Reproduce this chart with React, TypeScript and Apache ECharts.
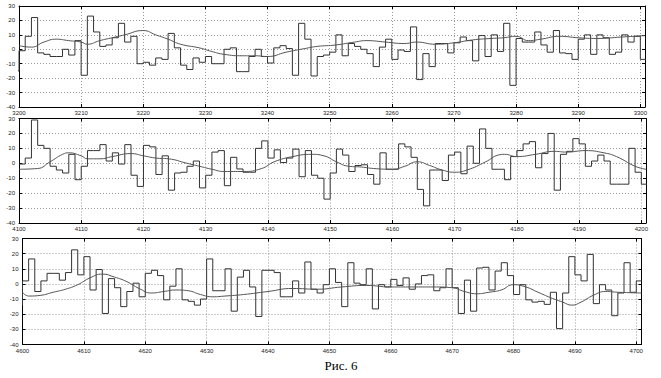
import React, { useEffect, useRef } from "react";
import * as echarts from "echarts";

// x range start of each panel
const PANEL_STARTS = [3200, 4100, 4600];
// value of the step just before each panel's first tick (only its edge is visible)
const PRE_VALUES: (number | null)[] = [-15, null, -14];

// step values, one per unit from the panel start
const STEP_1 = [
  -1, 9, 22, -2.5, -3.5, -5, -5, 0, -4, 6,
  -18, 23, 12, 2, 3, 8, 18, 5, 9, -10,
  -9, -11, -6, -7, 11, 1, -11, -14, -6, -9,
  -5, -10, -10, 0, 1, -15.5, -15.5, -5, 0, -5,
  -9.5, 1, 2.5, 0.5, -18, 18, 7, -18.5, -5, -4,
  -2, 10, -4.5, 4, 2, 0, -3, -12, 1.5, 7,
  -7, -0.5, -1.5, 15.5, -21, -3, -12, 4, 4, -2.5,
  4.5, 8.5, 6, -8, 9.5, -5, 10, -1.5, 18, -25,
  7.5, 5, 5, 12, 3, -2, 13, -2.5, -3, -7,
  7, 10, -3.5, 10, 8, -3.5, -2, 10, 5, 9,
  -7, -7,
];
const STEP_2 = [
  -0.5, 3.5, 29, 12, 10, -2, -4.5, -6.5, 6, -11,
  -2, 8.5, 8.5, 12.5, 1.5, 7, -0.5, 12.5, -8, -15.5,
  12, 11, -7.5, 5, -18, -6.5, -6, -2, 1.5, -16.5,
  -8, 7.5, 8.5, -15, 4, -3.8, -6, -6, 10, 15,
  3.5, 9, 0.5, 3.5, 9.5, -9, 8.5, -8, -10, -24,
  -6.5, 9.5, 5.5, -5.5, -1.5, -1, -7.5, -14, 7, -4,
  -4, 13, 11, 4, -17.5, -28.5, -4.5, -4.5, -11.5, 5.5,
  7.5, -7, 11.5, 0, 23, 10, -4, -4, -11, 4.5,
  8.5, 13, 14.5, -3, 6.5, 20, -18, 6, 8, 16.5,
  13, -2, 1.5, 5.5, 1.5, -14, -14, -14, 10, -6,
  -14, -14,
];
const STEP_3 = [
  2, 16.5, -5, 2, 7, 7, 2.5, 7.5, 22.5, 6,
  18, -4, 9.5, -19.5, 3.5, -2.5, -15, -5, 0.5, -8.5,
  7, 9, 5.5, -10.5, -1.5, 10, -10.5, -11.5, -14, -10,
  16.5, -4.5, -4.5, 10, -18, 4.5, 9, -2, -21.5, 9,
  9, 7.5, -8.5, -8.5, 2, -6, 14.5, -3.5, -6, -0.5,
  10, 1, -15, 14, 0.5, -0.5, 10, -16.5, -0.5, -2,
  3, -1, 4, -3.5, 0, 5.5, 6, -4.5, -2.5, 10,
  -2.5, -19.5, 2.5, -18, 10.5, 11, -4, 8.5, 14, 5.5,
  -7, -0.5, -10.5, -12, -11.5, -13.5, -5.5, -29.5, -6, 18,
  6, 2, 19.5, -13, -0.5, -4, -21, -6, 14, -5.5,
  2, 2,
];
const STEPS = [STEP_1, STEP_2, STEP_3];

// smooth trend curves (read at sample points)
const CURVE_X_1 = [3200, 3202, 3204, 3206, 3208, 3210, 3211, 3213, 3215, 3217, 3220, 3222, 3224, 3226, 3229, 3231, 3233, 3236, 3238, 3240, 3243, 3246, 3248, 3251, 3254, 3256, 3259, 3262, 3264, 3267, 3270, 3273, 3276, 3278, 3280, 3282, 3284, 3287, 3290, 3293, 3297, 3300.75];
const CURVE_Y_1 = [2.5, 1.5, 5, 7, 6, 5, 3.5, 6, 8, 10, 13, 10, 7, 3.5, 1, -1.5, -3.5, -4.5, -4.5, -5, -2, 0.5, 2, 3, 5, 6, 5, 4, 5, 3.5, 4.5, 6.5, 7.5, 8, 9, 6, 7, 9, 8, 7.5, 8.5, 9.5];
const CURVE_X_2 = [4100, 4103, 4105, 4107, 4108, 4110, 4111, 4113, 4115, 4118, 4120, 4122, 4124, 4127, 4129, 4131, 4133, 4136, 4139, 4141, 4144, 4147, 4149, 4151, 4153, 4155, 4157, 4160, 4162, 4164, 4166, 4168, 4170, 4172, 4175, 4177, 4178, 4180, 4183, 4186, 4188, 4191, 4194, 4196, 4199, 4200.75];
const CURVE_Y_2 = [-4, -3.5, 1, 6, 7, 5, 3, 3, 4.5, 6.5, 5, 3.5, 3, 0, -2, -4, -5.5, -5.5, -3.5, 1, 4.5, 6, 5, 1, -2, -2.5, -3.5, -4, -2, 1, -1.5, -4.5, -6, -4.5, 1, 5.5, 6, 4.5, 6, 8, 7.5, 8.5, 7, 4.5, -2, -4];
const CURVE_X_3 = [4600, 4601, 4603, 4605, 4607, 4609, 4611, 4613, 4615, 4617, 4619, 4621, 4623, 4625, 4627, 4629, 4631, 4633, 4636, 4640, 4644, 4648, 4652, 4656, 4660, 4664, 4667, 4670, 4672, 4674, 4676, 4678, 4680, 4682, 4684, 4686, 4688, 4689.5, 4691, 4693, 4695, 4697, 4700.85];
const CURVE_Y_3 = [-5.5, -8, -7.5, -5.5, -3.5, -0.5, 4, 6.5, 4.5, 1.5, -3, -6, -5, -4, -4.5, -7, -8.5, -8, -7, -5, -3, -3.5, -2, -1, -2, -2, -2, -2.5, -5, -6.5, -5.5, -4, -0.5, -2, -5.5, -9, -12, -14, -12, -7.5, -5, -5.5, -6];
const CURVES_X = [CURVE_X_1, CURVE_X_2, CURVE_X_3];
const CURVES_Y = [CURVE_Y_1, CURVE_Y_2, CURVE_Y_3];

const Y_MIN = -40;
const Y_MAX = 30;
const Y_STEP = 10;
const X_STEP = 10;
const X_SPAN = 100;
const X_EXTRA = [0.75, 0.75, 0.85];
const CAPTION = "Рис. 6";

const GRIDS = [
  { left: 19, top: 6, width: 626, height: 101 },
  { left: 19, top: 118.5, width: 627, height: 104.5 },
  { left: 22.5, top: 238.5, width: 619, height: 106 },
];

const labelFont = {
  fontSize: 6,
  color: "#222",
  fontFamily: "'Liberation Sans', Arial, sans-serif",
};
const gridLine = { show: true, lineStyle: { color: "#9a9a9a", type: [1, 2], width: 1 } };
const frameLine = { show: true, onZero: false, lineStyle: { color: "#000", width: 1 } };
const inTick = { show: true, inside: true, length: 3, lineStyle: { color: "#000", width: 1 } };

export default function App() {
  const ref = useRef<HTMLDivElement>(null);
  useEffect(() => {
    if (!ref.current) return;
    const chart = echarts.init(ref.current, undefined, { renderer: "svg" });
    const xAxis: any[] = [];
    const yAxis: any[] = [];
    const series: any[] = [];
    PANEL_STARTS.forEach((start, i) => {
      const xmax = start + X_SPAN + X_EXTRA[i];
      xAxis.push({
        type: "value",
        gridIndex: i,
        position: "bottom",
        min: start,
        max: xmax,
        interval: X_STEP,
        axisLine: frameLine,
        axisTick: inTick,
        splitLine: gridLine,
        axisLabel: {
          ...labelFont,
          margin: 3,
          showMaxLabel: true,
          formatter: (v: number) => (Math.abs(v % X_STEP) < 1e-6 ? String(v) : ""),
        },
      });
      xAxis.push({
        type: "value",
        gridIndex: i,
        position: "top",
        min: start,
        max: xmax,
        interval: X_STEP,
        axisLine: frameLine,
        axisTick: inTick,
        splitLine: { show: false },
        axisLabel: { show: false },
      });
      yAxis.push({
        type: "value",
        gridIndex: i,
        position: "left",
        min: Y_MIN,
        max: Y_MAX,
        interval: Y_STEP,
        axisLine: frameLine,
        axisTick: inTick,
        splitLine: gridLine,
        axisLabel: { ...labelFont, margin: 4 },
      });
      yAxis.push({
        type: "value",
        gridIndex: i,
        position: "right",
        min: Y_MIN,
        max: Y_MAX,
        interval: Y_STEP,
        axisLine: frameLine,
        axisTick: inTick,
        splitLine: { show: false },
        axisLabel: { show: false },
      });
      const stepData: number[][] = [];
      const pre = PRE_VALUES[i];
      if (pre !== null) stepData.push([start - 1, pre]);
      STEPS[i].forEach((v, k) => stepData.push([start + k, v]));
      series.push({
        type: "line",
        xAxisIndex: 2 * i,
        yAxisIndex: 2 * i,
        step: "end",
        data: stepData,
        showSymbol: false,
        symbol: "none",
        clip: true,
        lineStyle: { color: "#333", width: 1 },
        silent: true,
      });
      series.push({
        type: "line",
        xAxisIndex: 2 * i,
        yAxisIndex: 2 * i,
        smooth: 0.5,
        data: CURVES_X[i].map((x, k) => [x, CURVES_Y[i][k]]),
        showSymbol: false,
        symbol: "none",
        clip: true,
        lineStyle: { color: "#555", width: 1 },
        silent: true,
      });
    });
    chart.setOption({
      animation: false,
      backgroundColor: "#fff",
      grid: GRIDS.map((g) => ({ ...g, containLabel: false, outerBoundsMode: "none" })),
      xAxis,
      yAxis,
      series,
      graphic: [
        {
          type: "text",
          x: 341,
          y: 365,
          style: {
            text: CAPTION,
            fontSize: 13,
            fontWeight: "normal",
            fontFamily: "'Liberation Serif', 'Times New Roman', serif",
            fill: "#000",
            align: "center",
            verticalAlign: "middle",
          },
        },
      ],
    });
    return () => chart.dispose();
  }, []);
  return (
    <div
      ref={ref}
      style={{ position: "absolute", left: 0, top: 0, width: 661, height: 378, background: "#fff" }}
    />
  );
}
